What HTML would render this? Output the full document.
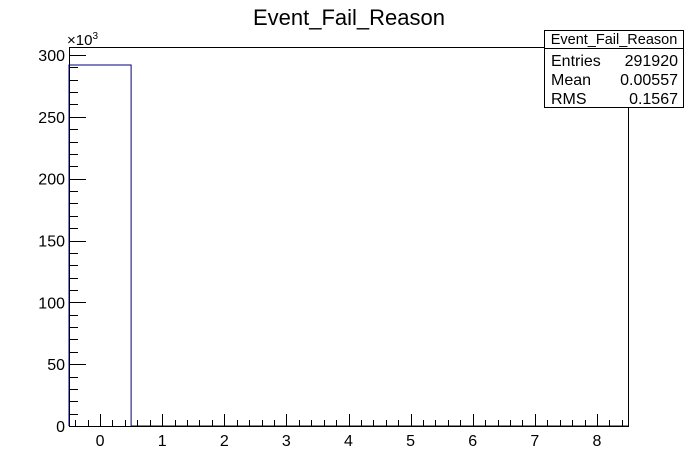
<!DOCTYPE html>
<html><head><meta charset="utf-8"><style>
body{margin:0;background:#fff}
svg{display:block;font-family:"Liberation Sans",Arial,sans-serif}
</style></head><body>
<svg id="c" width="698" height="474">
<rect width="698" height="474" fill="#fff"/>
<text x="349" y="25" text-anchor="middle" font-size="22">Event_Fail_Reason</text>
<g id="plot"></g>
<g>
<rect x="544.5" y="30.5" width="139" height="77" fill="#fff" stroke="#000"/>
<line x1="544" y1="48.5" x2="684" y2="48.5" stroke="#000"/>
<text x="614" y="44" text-anchor="middle" font-size="14.5">Event_Fail_Reason</text>
<text x="551" y="66" font-size="16">Entries</text><text x="678" y="66" text-anchor="end" font-size="16">291920</text>
<text x="551" y="85" font-size="16">Mean</text><text x="678" y="85" text-anchor="end" font-size="16">0.00557</text>
<text x="551" y="104" font-size="16">RMS</text><text x="678" y="104" text-anchor="end" font-size="16">0.1567</text>
</g>
</svg>
<script>
const binCenters=[0,1,2,3,4,5,6,7,8];
const binCounts=[291920,0,0,0,0,0,0,0,0];
const xTickLabels=["0","1","2","3","4","5","6","7","8"];
const yTickValues=[0,50,100,150,200,250,300];
const L=69,R=628,T=47,B=426,xmin=-0.5,xmax=8.5,ymax=306.5;
const sx=v=>L+(v-xmin)/(xmax-xmin)*(R-L);
const sy=v=>B-v/ymax*(B-T);
const g=document.getElementById('plot');
const ns='http://www.w3.org/2000/svg';
function mk(t,a){const e=document.createElementNS(ns,t);for(const k in a)e.setAttribute(k,a[k]);g.appendChild(e);return e;}
let d='M'+sx(xmin)+' '+B;
binCenters.forEach((c,i)=>{const y=sy(binCounts[i]/1000);d+=' L'+sx(c-0.5)+' '+y+' L'+sx(c+0.5)+' '+y;});
d+=' L'+sx(xmax)+' '+B;
const h=mk('path',{d:d,fill:'none',stroke:'#000080','stroke-width':1});


const f=mk('rect',{x:L+0.5,y:T+0.5,width:R-L,height:B-T,fill:'none',stroke:'#000'});


for(let v=-0.4;v<8.5;v+=0.2){const r=Math.round(v*10)/10;const maj=Math.abs(r-Math.round(r))<1e-6;const x=Math.round(sx(r))+0.5;
const t=mk('line',{x1:x,x2:x,y1:B,y2:B-(maj?12:6),stroke:'#000'});

}
xTickLabels.forEach((s,i)=>{const t=mk('text',{x:sx(binCenters[i]),y:B+20,'text-anchor':'middle','font-size':16});t.textContent=s;

});
for(let v=0;v<=ymax;v+=10){const maj=v%50===0;const y=Math.round(sy(v))+0.5;
const t=mk('line',{x1:L,x2:L+(maj?17:9),y1:y,y2:y,stroke:'#000'});

}
yTickValues.forEach(v=>{const t=mk('text',{x:L-4,y:sy(v)+6,'text-anchor':'end','font-size':16});t.textContent=v;

});
const m=mk('text',{x:67,y:45,'font-size':15});m.innerHTML='×10<tspan dy="-6" font-size="10">3</tspan>';


</script>
</body></html>
